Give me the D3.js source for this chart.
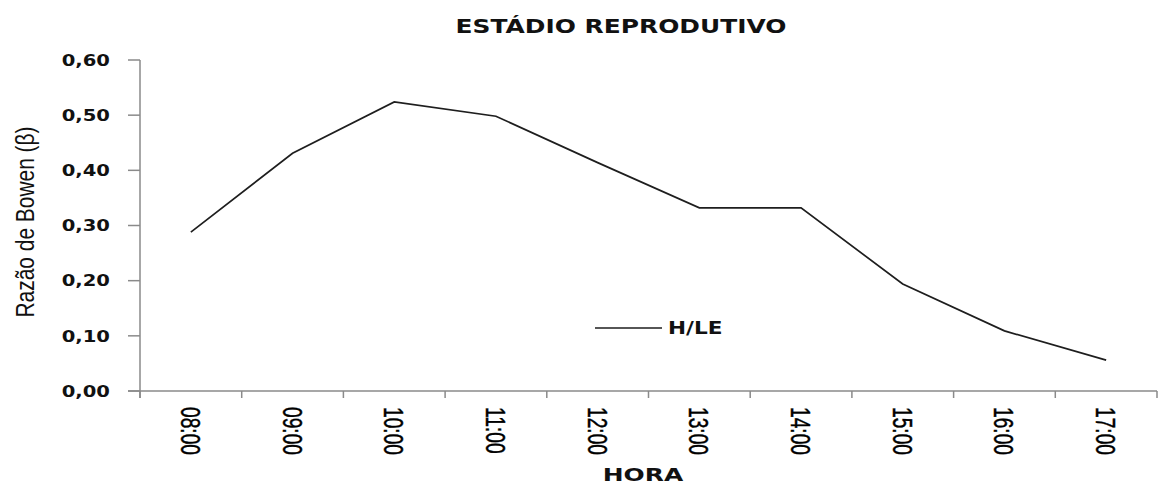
<!DOCTYPE html>
<html>
<head>
<meta charset="utf-8">
<script src="https://cdn.jsdelivr.net/npm/d3@7"></script>
<style>
  body { margin: 0; background: #fff; }
  text { fill: #111; }
</style>
</head>
<body>
<div id="chart"></div>
<script>
const horas = ["08:00", "09:00", "10:00", "11:00", "12:00", "13:00", "14:00", "15:00", "16:00", "17:00"]
const razaoBowen = [0.288, 0.431, 0.524, 0.498, 0.414, 0.332, 0.332, 0.194, 0.109, 0.056]
const yTicks = [0, 0.1, 0.2, 0.3, 0.4, 0.5, 0.6]
const serieNome = "H/LE"

const width = 1161
const height = 484
const margin = { top: 60, left: 140, bottom: 93, right: 4 }
const iwidth = width - margin.left - margin.right
const iheight = height - margin.top - margin.bottom

// the picture is stretched, so text is scaled to match
const sx = 1.66, sy = 1.35
const axisColor = "#8a8a8a"

const svg = d3.select("#chart").append("svg")
    .attr("width", width)
    .attr("height", height)

const g = svg.append("g")
    .attr("transform", `translate(${margin.left}, ${margin.top})`)

const x = d3.scaleBand()
    .domain(horas)
    .range([0, iwidth])
    .padding(0)

const y = d3.scaleLinear()
    .domain([0, 0.6])
    .range([iheight, 0])

const fmt = d => d3.format(".2f")(d).replace(".", ",")

// y axis
const yAxis = g.append("g")
yAxis.append("line")
    .attr("x1", 0).attr("x2", 0)
    .attr("y1", 0).attr("y2", iheight + 7)
    .attr("stroke", axisColor).attr("stroke-width", 1.5)
yAxis.selectAll("line.tick")
    .data(yTicks)
    .join("line")
    .classed("tick", true)
    .attr("x1", -12).attr("x2", 0)
    .attr("y1", d => y(d)).attr("y2", d => y(d))
    .attr("stroke", axisColor).attr("stroke-width", 1.5)
yAxis.selectAll("text")
    .data(yTicks)
    .join("text")
    .attr("transform", d => `translate(-30, ${y(d)}) scale(${sx}, ${sy})`)
    .attr("text-anchor", "end")
    .attr("dy", "0.36em")
    .attr("font-family", "DejaVu Sans")
    .attr("font-weight", "bold")
    .attr("font-size", 11.8)
    .text(fmt)

// x axis
const xAxis = g.append("g").attr("transform", `translate(0, ${iheight})`)
xAxis.append("line")
    .attr("x1", -12).attr("x2", iwidth)
    .attr("y1", 0).attr("y2", 0)
    .attr("stroke", axisColor).attr("stroke-width", 1.5)
const bounds = horas.map(h => x(h)).concat([iwidth])
xAxis.selectAll("line.tick")
    .data(bounds)
    .join("line")
    .classed("tick", true)
    .attr("x1", d => d).attr("x2", d => d)
    .attr("y1", 0).attr("y2", 7)
    .attr("stroke", axisColor).attr("stroke-width", 1.5)
xAxis.selectAll("text")
    .data(horas)
    .join("text")
    .attr("transform", d => `translate(${x(d) + x.bandwidth() / 2}, 16) rotate(90) scale(1.28, 1.85)`)
    .attr("text-anchor", "start")
    .attr("dy", "0.36em")
    .attr("font-family", "Liberation Sans")
    .attr("font-size", 15)
    .style("fill", "#000")
    .style("stroke", "#000")
    .style("stroke-width", 0.25)
    .text(d => d)

// line
const line = d3.line()
    .x((d, i) => x(horas[i]) + x.bandwidth() / 2)
    .y(d => y(d))

g.append("path")
    .datum(razaoBowen)
    .attr("fill", "none")
    .attr("stroke", "#1e1e1e")
    .attr("stroke-width", 1.7)
    .attr("d", line)

// legend
const legend = svg.append("g").attr("transform", "translate(595, 328)")
legend.append("line")
    .attr("x1", 0).attr("x2", 67)
    .attr("y1", 0).attr("y2", 0)
    .attr("stroke", "#1e1e1e").attr("stroke-width", 1.7)
legend.append("text")
    .attr("transform", `translate(73, 0) scale(${sx}, ${sy})`)
    .attr("dy", "0.36em")
    .attr("font-family", "DejaVu Sans")
    .attr("font-weight", "bold")
    .attr("font-size", 13)
    .text(serieNome)

// titles
svg.append("text")
    .attr("transform", `translate(621, 33) scale(${sx}, ${sy})`)
    .attr("text-anchor", "middle")
    .attr("font-family", "DejaVu Sans")
    .attr("font-weight", "bold")
    .attr("font-size", 15)
    .text("ESTÁDIO REPRODUTIVO")

svg.append("text")
    .attr("transform", `translate(643, 481) scale(${sx}, 1.2)`)
    .attr("text-anchor", "middle")
    .attr("font-family", "DejaVu Sans")
    .attr("font-weight", "bold")
    .attr("font-size", 15)
    .text("HORA")

svg.append("text")
    .attr("transform", `translate(25, 222) rotate(-90) scale(1.35, 1.66)`)
    .attr("text-anchor", "middle")
    .attr("dy", "0.36em")
    .attr("font-family", "Liberation Sans")
    .attr("font-size", 15.5)
    .text("Razão de Bowen (β)")
</script>
</body>
</html>
